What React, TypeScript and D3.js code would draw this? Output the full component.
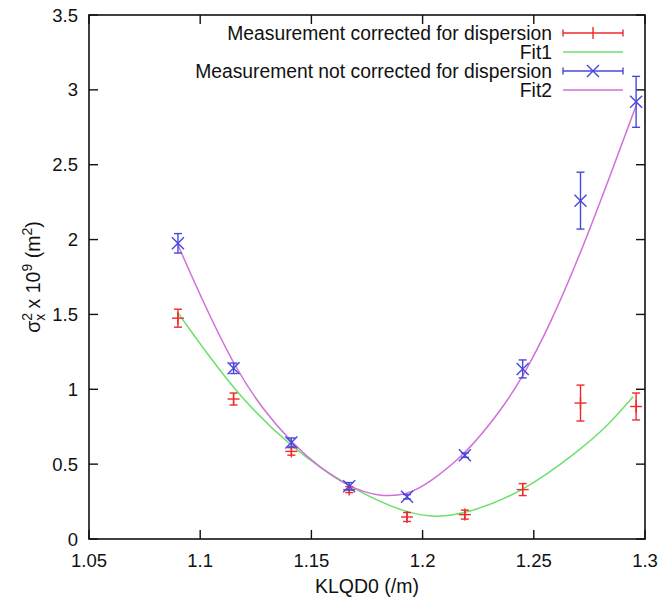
import React from "react";
import * as d3 from "d3";

const kPoints = [1.09, 1.115, 1.141, 1.167, 1.193, 1.219, 1.245, 1.271, 1.296];
const correctedY = [1.475, 0.935, 0.585, 0.33, 0.147, 0.163, 0.33, 0.908, 0.885];
const correctedErr = [0.06, 0.04, 0.025, 0.02, 0.03, 0.03, 0.04, 0.12, 0.09];
const uncorrectedY = [1.975, 1.14, 0.645, 0.352, 0.282, 0.56, 1.136, 2.26, 2.92];
const uncorrectedErr = [0.065, 0.035, 0.03, 0.025, 0.015, 0.015, 0.06, 0.19, 0.17];

const fit1K = [1.09, 1.1157, 1.1413, 1.1674, 1.193, 1.2065, 1.219, 1.245, 1.2708, 1.2829, 1.2946];
const fit1Y = [1.51, 0.975, 0.605, 0.34, 0.168, 0.145, 0.166, 0.31, 0.595, 0.75, 0.95];
const fit2K = [1.09, 1.1013, 1.1157, 1.1283, 1.1413, 1.1539, 1.1674, 1.1795, 1.193, 1.2033, 1.219, 1.2348, 1.245, 1.2573, 1.2708, 1.2829, 1.2964];
const fit2Y = [1.964, 1.583, 1.142, 0.862, 0.641, 0.474, 0.345, 0.285, 0.29, 0.38, 0.561, 0.85, 1.08, 1.43, 1.9, 2.37, 2.91];

const xTicks = [1.05, 1.1, 1.15, 1.2, 1.25, 1.3];
const yTicks = [0, 0.5, 1, 1.5, 2, 2.5, 3, 3.5];

const legendLabels = [
  "Measurement corrected for dispersion",
  "Fit1",
  "Measurement not corrected for dispersion",
  "Fit2",
];

const RED = "#ee2a2a";
const GREEN = "#6ee06e";
const BLUE = "#4848dd";
const MAGENTA = "#d070d8";
const FONT = "'Liberation Sans', Arial, Helvetica, sans-serif";

export default function App() {
  const W = 663, H = 604;
  const left = 89, right = 645, top = 15, bottom = 539;
  const x = d3.scaleLinear().domain([1.05, 1.3]).range([left, right]);
  const y = d3.scaleLinear().domain([0, 3.5]).range([bottom, top]);
  const line = d3
    .line<[number, number]>()
    .x((d) => x(d[0]))
    .y((d) => y(d[1]))
    .curve(d3.curveBasis);
  const fit1 = line(fit1K.map((k, i) => [k, fit1Y[i]]) as [number, number][]) || "";
  const fit2 = line(fit2K.map((k, i) => [k, fit2Y[i]]) as [number, number][]) || "";
  const fmt = (v: number) => String(v);
  const tickLen = 9;
  const cap = 4;
  const mk = 6;

  const legY = [33, 52, 71, 90];
  const legTextX = 552;
  const legL = 563, legR = 623, legC = (563 + 623) / 2;

  return (
    <svg width={W} height={H} style={{ position: "absolute", left: 0, top: 0, background: "#fff" }} fontFamily={FONT}>
      <rect x={0} y={0} width={W} height={H} fill="#fff" />
      {/* ticks */}
      <g stroke="#111" strokeWidth={1.4}>
        {xTicks.map((t) => (
          <g key={"xt" + t}>
            <line x1={x(t)} x2={x(t)} y1={bottom} y2={bottom - tickLen} />
            <line x1={x(t)} x2={x(t)} y1={top} y2={top + tickLen} />
          </g>
        ))}
        {yTicks.map((t) => (
          <g key={"yt" + t}>
            <line x1={left} x2={left + tickLen} y1={y(t)} y2={y(t)} />
            <line x1={right} x2={right - tickLen} y1={y(t)} y2={y(t)} />
          </g>
        ))}
      </g>
      {/* tick labels */}
      <g fontSize={18.5} fill="#111">
        {xTicks.map((t) => (
          <text key={"xl" + t} x={x(t)} y={567} textAnchor="middle">
            {fmt(t)}
          </text>
        ))}
        {yTicks.map((t) => (
          <text key={"yl" + t} x={78} y={y(t) + 6.5} textAnchor="end">
            {fmt(t)}
          </text>
        ))}
      </g>
      {/* axis titles */}
      <text x={(left + right) / 2} y={593} textAnchor="middle" fontSize={19.5} fill="#111">
        KLQD0 (/m)
      </text>
      <text transform={`translate(40,${(top + bottom) / 2}) rotate(-90)`} textAnchor="middle" fontSize={19.5} fill="#111">
        <tspan>σ</tspan>
        <tspan fontSize={14} dy={-8}>2</tspan>
        <tspan fontSize={14} dx={-8} dy={13}>x</tspan>
        <tspan dy={-5}> x 10</tspan>
        <tspan fontSize={14} dy={-8}>9</tspan>
        <tspan dy={8}> (m</tspan>
        <tspan fontSize={14} dy={-8}>2</tspan>
        <tspan dy={8}>)</tspan>
      </text>
      {/* fits */}
      <path d={fit1} fill="none" stroke={GREEN} strokeWidth={1.5} />
      <path d={fit2} fill="none" stroke={MAGENTA} strokeWidth={1.5} />
      {/* corrected measurement */}
      <g stroke={RED} strokeWidth={1.4}>
        {kPoints.map((k, i) => {
          const cx = x(k);
          const cy = y(correctedY[i]);
          const y1 = y(correctedY[i] + correctedErr[i]);
          const y2 = y(correctedY[i] - correctedErr[i]);
          return (
            <g key={"r" + i}>
              <line x1={cx} x2={cx} y1={y1} y2={y2} />
              <line x1={cx - cap} x2={cx + cap} y1={y1} y2={y1} />
              <line x1={cx - cap} x2={cx + cap} y1={y2} y2={y2} />
              <line x1={cx - mk} x2={cx + mk} y1={cy} y2={cy} />
              <line x1={cx} x2={cx} y1={cy - mk} y2={cy + mk} />
            </g>
          );
        })}
      </g>
      {/* uncorrected measurement */}
      <g stroke={BLUE} strokeWidth={1.4}>
        {kPoints.map((k, i) => {
          const cx = x(k);
          const cy = y(uncorrectedY[i]);
          const y1 = y(uncorrectedY[i] + uncorrectedErr[i]);
          const y2 = y(uncorrectedY[i] - uncorrectedErr[i]);
          return (
            <g key={"b" + i}>
              <line x1={cx} x2={cx} y1={y1} y2={y2} />
              <line x1={cx - cap} x2={cx + cap} y1={y1} y2={y1} />
              <line x1={cx - cap} x2={cx + cap} y1={y2} y2={y2} />
              <line x1={cx - mk} x2={cx + mk} y1={cy - mk} y2={cy + mk} />
              <line x1={cx - mk} x2={cx + mk} y1={cy + mk} y2={cy - mk} />
            </g>
          );
        })}
      </g>
      {/* frame */}
      <rect x={left} y={top} width={right - left} height={bottom - top} fill="none" stroke="#111" strokeWidth={1.6} />
      {/* legend */}
      <g fontSize={19.3} fill="#111">
        {legendLabels.map((l, i) => (
          <text key={"lg" + i} x={legTextX} y={legY[i] + 6.8} textAnchor="end">
            {l}
          </text>
        ))}
      </g>
      <g stroke={RED} strokeWidth={1.4}>
        <line x1={legL} x2={legR} y1={legY[0]} y2={legY[0]} />
        <line x1={legL} x2={legL} y1={legY[0] - 3.5} y2={legY[0] + 3.5} />
        <line x1={legR} x2={legR} y1={legY[0] - 3.5} y2={legY[0] + 3.5} />
        <line x1={legC} x2={legC} y1={legY[0] - 6} y2={legY[0] + 6} />
      </g>
      <line x1={legL} x2={legR} y1={legY[1]} y2={legY[1]} stroke={GREEN} strokeWidth={1.5} />
      <g stroke={BLUE} strokeWidth={1.4}>
        <line x1={legL} x2={legR} y1={legY[2]} y2={legY[2]} />
        <line x1={legL} x2={legL} y1={legY[2] - 3.5} y2={legY[2] + 3.5} />
        <line x1={legR} x2={legR} y1={legY[2] - 3.5} y2={legY[2] + 3.5} />
        <line x1={legC - 6} x2={legC + 6} y1={legY[2] - 6} y2={legY[2] + 6} />
        <line x1={legC - 6} x2={legC + 6} y1={legY[2] + 6} y2={legY[2] - 6} />
      </g>
      <line x1={legL} x2={legR} y1={legY[3]} y2={legY[3]} stroke={MAGENTA} strokeWidth={1.5} />
    </svg>
  );
}
